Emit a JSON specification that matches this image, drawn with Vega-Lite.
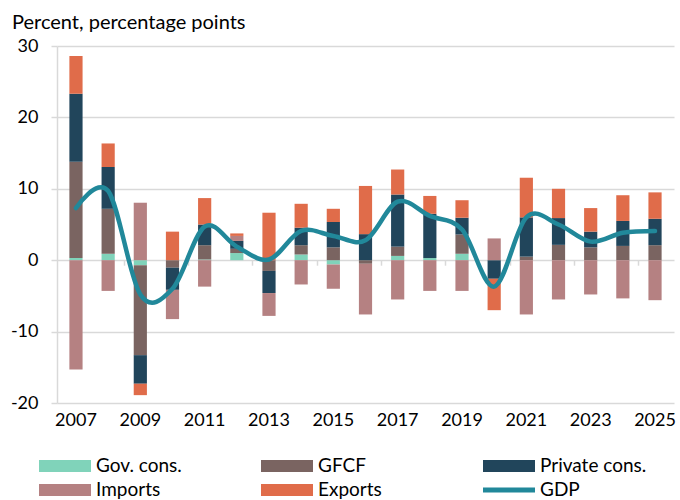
{
  "$schema": "https://vega.github.io/schema/vega-lite/v6.json",
  "width": 617,
  "height": 357,
  "autosize": {"type": "none"},
  "padding": {"left": 57, "top": 46, "right": 6, "bottom": 97},
  "background": "white",
  "config": {"font": "Lato", "view": {"stroke": null}},
  "title": {"text": "Percent, percentage points", "anchor": "start", "frame": "group", "dx": -45, "fontSize": 20, "fontWeight": "normal", "color": "#000", "offset": 4},
  "datasets": {
    "seriesOrder": [
      {"series": "Gov. cons.", "rank": 1},
      {"series": "GFCF", "rank": 2},
      {"series": "Private cons.", "rank": 3},
      {"series": "Imports", "rank": 4},
      {"series": "Exports", "rank": 5}
    ],
    "bars": [
      {"year": 2007, "series": "Gov. cons.", "value": 0.3},
      {"year": 2007, "series": "GFCF", "value": 13.5},
      {"year": 2007, "series": "Private cons.", "value": 9.5},
      {"year": 2007, "series": "Imports", "value": -15.3},
      {"year": 2007, "series": "Exports", "value": 5.3},
      {"year": 2008, "series": "Gov. cons.", "value": 0.9},
      {"year": 2008, "series": "GFCF", "value": 6.3},
      {"year": 2008, "series": "Private cons.", "value": 5.85},
      {"year": 2008, "series": "Imports", "value": -4.3},
      {"year": 2008, "series": "Exports", "value": 3.3},
      {"year": 2009, "series": "Gov. cons.", "value": -0.7},
      {"year": 2009, "series": "GFCF", "value": -12.6},
      {"year": 2009, "series": "Private cons.", "value": -4.0},
      {"year": 2009, "series": "Imports", "value": 8.05},
      {"year": 2009, "series": "Exports", "value": -1.6},
      {"year": 2010, "series": "GFCF", "value": -1.05},
      {"year": 2010, "series": "Private cons.", "value": -3.1},
      {"year": 2010, "series": "Imports", "value": -4.1},
      {"year": 2010, "series": "Exports", "value": 4.0},
      {"year": 2011, "series": "Gov. cons.", "value": 0.1},
      {"year": 2011, "series": "GFCF", "value": 2.0},
      {"year": 2011, "series": "Private cons.", "value": 2.9},
      {"year": 2011, "series": "Imports", "value": -3.7},
      {"year": 2011, "series": "Exports", "value": 3.7},
      {"year": 2012, "series": "Gov. cons.", "value": 1.0},
      {"year": 2012, "series": "GFCF", "value": 0.6},
      {"year": 2012, "series": "Private cons.", "value": 1.1},
      {"year": 2012, "series": "Imports", "value": 0.7},
      {"year": 2012, "series": "Exports", "value": 0.35},
      {"year": 2013, "series": "GFCF", "value": -1.5},
      {"year": 2013, "series": "Private cons.", "value": -3.1},
      {"year": 2013, "series": "Imports", "value": -3.2},
      {"year": 2013, "series": "Exports", "value": 6.65},
      {"year": 2014, "series": "Gov. cons.", "value": 0.8},
      {"year": 2014, "series": "GFCF", "value": 1.3},
      {"year": 2014, "series": "Private cons.", "value": 2.45},
      {"year": 2014, "series": "Imports", "value": -3.4},
      {"year": 2014, "series": "Exports", "value": 3.35},
      {"year": 2015, "series": "Gov. cons.", "value": -0.6},
      {"year": 2015, "series": "GFCF", "value": 1.8},
      {"year": 2015, "series": "Private cons.", "value": 3.55},
      {"year": 2015, "series": "Imports", "value": -3.4},
      {"year": 2015, "series": "Exports", "value": 1.85},
      {"year": 2016, "series": "GFCF", "value": -0.5},
      {"year": 2016, "series": "Private cons.", "value": 3.65},
      {"year": 2016, "series": "Imports", "value": -7.1},
      {"year": 2016, "series": "Exports", "value": 6.75},
      {"year": 2017, "series": "Gov. cons.", "value": 0.6},
      {"year": 2017, "series": "GFCF", "value": 1.3},
      {"year": 2017, "series": "Private cons.", "value": 7.3},
      {"year": 2017, "series": "Imports", "value": -5.5},
      {"year": 2017, "series": "Exports", "value": 3.5},
      {"year": 2018, "series": "Gov. cons.", "value": 0.3},
      {"year": 2018, "series": "Private cons.", "value": 6.2},
      {"year": 2018, "series": "Imports", "value": -4.3},
      {"year": 2018, "series": "Exports", "value": 2.5},
      {"year": 2019, "series": "Gov. cons.", "value": 0.9},
      {"year": 2019, "series": "GFCF", "value": 2.7},
      {"year": 2019, "series": "Private cons.", "value": 2.35},
      {"year": 2019, "series": "Imports", "value": -4.3},
      {"year": 2019, "series": "Exports", "value": 2.45},
      {"year": 2020, "series": "Private cons.", "value": -2.6},
      {"year": 2020, "series": "Imports", "value": 3.05},
      {"year": 2020, "series": "Exports", "value": -4.4},
      {"year": 2021, "series": "GFCF", "value": 0.5},
      {"year": 2021, "series": "Private cons.", "value": 5.5},
      {"year": 2021, "series": "Imports", "value": -7.6},
      {"year": 2021, "series": "Exports", "value": 5.55},
      {"year": 2022, "series": "GFCF", "value": 2.15},
      {"year": 2022, "series": "Private cons.", "value": 3.75},
      {"year": 2022, "series": "Imports", "value": -5.5},
      {"year": 2022, "series": "Exports", "value": 4.1},
      {"year": 2023, "series": "GFCF", "value": 1.8},
      {"year": 2023, "series": "Private cons.", "value": 2.2},
      {"year": 2023, "series": "Imports", "value": -4.8},
      {"year": 2023, "series": "Exports", "value": 3.3},
      {"year": 2024, "series": "GFCF", "value": 2.0},
      {"year": 2024, "series": "Private cons.", "value": 3.5},
      {"year": 2024, "series": "Imports", "value": -5.35},
      {"year": 2024, "series": "Exports", "value": 3.6},
      {"year": 2025, "series": "GFCF", "value": 2.1},
      {"year": 2025, "series": "Private cons.", "value": 3.7},
      {"year": 2025, "series": "Imports", "value": -5.6},
      {"year": 2025, "series": "Exports", "value": 3.7}
    ],
    "gdp": [
      {"year": 2007, "gdp": 7.3},
      {"year": 2008, "gdp": 9.7},
      {"year": 2009, "gdp": -4.8},
      {"year": 2010, "gdp": -4.0},
      {"year": 2011, "gdp": 4.7},
      {"year": 2012, "gdp": 1.9},
      {"year": 2013, "gdp": 0.1},
      {"year": 2014, "gdp": 4.1},
      {"year": 2015, "gdp": 3.4},
      {"year": 2016, "gdp": 2.8},
      {"year": 2017, "gdp": 8.2},
      {"year": 2018, "gdp": 6.2},
      {"year": 2019, "gdp": 4.3},
      {"year": 2020, "gdp": -3.7},
      {"year": 2021, "gdp": 6.0},
      {"year": 2022, "gdp": 5.0},
      {"year": 2023, "gdp": 2.6},
      {"year": 2024, "gdp": 3.85},
      {"year": 2025, "gdp": 4.1}
    ]
  },
  "layer": [
    {
      "data": {"name": "bars"},
      "transform": [
        {"lookup": "series", "from": {"data": {"name": "seriesOrder"}, "key": "series", "fields": ["rank"]}}
      ],
      "mark": {"type": "bar"},
      "encoding": {
        "x": {
          "field": "year", "type": "ordinal",
          "scale": {"paddingInner": 0.59, "paddingOuter": 0.385},
          "axis": {"title": null, "values": [2007, 2009, 2011, 2013, 2015, 2017, 2019, 2021, 2023, 2025], "labelAngle": 0, "labelFontSize": 18, "labelColor": "#000", "labelPadding": 8, "ticks": false, "domain": false, "grid": false}
        },
        "y": {
          "field": "value", "type": "quantitative", "stack": "zero",
          "scale": {"domain": [-20, 30], "nice": false},
          "axis": {"title": null, "values": [-20, -10, 0, 10, 20, 30], "labelExpr": "'' + datum.value", "labelFontSize": 18, "labelColor": "#000", "labelPadding": 13, "tickSize": 6, "tickColor": "#d9d9d9", "tickWidth": 1.5, "domainColor": "#d9d9d9", "domainWidth": 1.5, "gridColor": "#d9d9d9", "gridWidth": 1.5}
        },
        "order": {"field": "rank", "type": "quantitative"},
        "color": {
          "field": "series", "type": "nominal",
          "scale": {"domain": ["Gov. cons.", "GFCF", "Private cons.", "Imports", "Exports", "GDP"], "range": ["#80D3BA", "#7A6461", "#21455B", "#B58182", "#E06C4A", "#21889A"]},
          "legend": {
            "orient": "none", "legendX": -18, "legendY": 410, "direction": "horizontal", "columns": 3, "gridAlign": "all",
            "columnPadding": 58, "rowPadding": 4, "clipHeight": 20, "symbolSize": 2704,
            "symbolType": "M-1,-0.23H1V0.23H-1Z", "symbolStrokeWidth": 0, "symbolOpacity": 1,
            "labelFontSize": 19, "labelColor": "#000", "labelOffset": 5, "labelLimit": 300, "title": null,
            "encode": {"symbols": {"update": {"shape": {"signal": "datum.value === 'GDP' ? 'M-1,-0.1H1V0.1H-1Z' : 'M-1,-0.23H1V0.23H-1Z'"}}}}
          }
        }
      }
    },
    {
      "data": {"name": "gdp"},
      "mark": {"type": "line", "interpolate": "cardinal", "color": "#21889A", "strokeWidth": 4.5, "strokeCap": "round"},
      "encoding": {
        "x": {
          "field": "year", "type": "ordinal",
          "axis": {"title": null, "orient": "bottom", "offset": -142.8, "values": [2009, 2011, 2013, 2015, 2017, 2019, 2021, 2023, 2025], "labels": false, "domain": false, "grid": false, "ticks": true, "tickSize": 5, "tickColor": "#d9d9d9", "tickWidth": 1.5, "bandPosition": -0.72}
        },
        "y": {"field": "gdp", "type": "quantitative"}
      }
    }
  ],
  "resolve": {"axis": {"x": "independent"}}
}
